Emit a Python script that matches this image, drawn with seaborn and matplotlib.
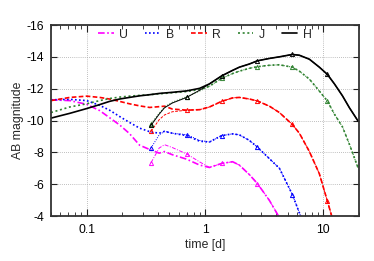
import numpy as np
import pandas as pd
import matplotlib
matplotlib.use("Agg")
import matplotlib.pyplot as plt
import seaborn as sns

# curvas principais (linha grossa), tempo em dias
t_main = [0.05, 0.072, 0.1, 0.129, 0.156, 0.19, 0.23, 0.28, 0.34, 0.41, 0.455, 0.53,
          0.7, 0.9, 1.09, 1.38, 1.71, 1.95, 2.37, 2.77, 3.5, 4.25, 5.47, 6.27,
          7.62, 9.25, 10.8, 12.4, 14.5, 16.6, 19.7]

mag_U = [-11.3, -11.25, -11.02, -10.62, -10.18, -9.72, -9.18, -8.45, -8.18, -7.95, -8.05, -7.85,
         -7.57, -7.2, -7.05, -7.3, -7.41, -7.2, -6.6, -6.04, -4.98, -3.9]
mag_B = [-11.3, -11.33, -11.25, -10.95, -10.65, -10.25, -9.88, -9.52, -9.3, -9.2, -9.32, -9.2,
         -9.05, -8.7, -8.65, -9.05, -9.16, -9.1, -8.75, -8.33, -7.6, -7.0, -5.35, -4.2, -2.5]
mag_R = [-11.25, -11.45, -11.53, -11.45, -11.35, -11.2, -11.05, -10.92, -10.82, -10.87, -10.9, -10.72,
         -10.65, -10.68, -10.85, -11.2, -11.42, -11.45, -11.35, -11.23, -10.9, -10.5, -9.75, -9.2,
         -8.05, -6.65, -4.95, -3.4]
mag_J = [-10.5, -10.85, -11.05, -11.25, -11.38, -11.47, -11.53, -11.58, -11.62, -11.68, -11.7, -11.75,
         -11.82, -11.95, -12.15, -12.65, -12.95, -13.1, -13.28, -13.38, -13.47, -13.5, -13.35, -13.1,
         -12.6, -11.85, -11.23, -10.4, -9.6, -8.5, -7.0]
mag_H = [-10.15, -10.45, -10.75, -11.0, -11.2, -11.35, -11.45, -11.55, -11.62, -11.7, -11.73, -11.77,
         -11.86, -12.02, -12.3, -12.8, -13.15, -13.35, -13.55, -13.75, -13.9, -14.0, -14.15, -14.1,
         -13.85, -13.35, -12.9, -12.3, -11.55, -10.8, -9.95]

# segunda serie (linha fina com triangulos), so o comeco difere da principal
t_early = [0.35, 0.41, 0.455, 0.53, 0.7, 0.9]
early_U = [-7.35, -8.27, -8.48, -8.3, -7.9, -7.4]
early_B = [-8.27, -9.1, -9.32, -9.2, -9.11, -8.75]
early_R = [-9.32, -10.05, -10.35, -10.55, -10.65, -10.68]
early_J = [-9.8, -10.45, -10.85, -11.15, -11.5, -11.85]
early_H = [-9.7, -10.4, -10.8, -11.1, -11.45, -11.9]

bandas = ["U", "B", "R", "J", "H"]
cores = {"U": "#ff00ff", "B": "#0000ff", "R": "#ff0000", "J": "#2f8230", "H": "#000000"}
estilos = {"U": (0, (4, 1.5, 1, 1.5)), "B": (0, (1, 1.4)), "R": (0, (2.8, 1.4)),
           "J": (0, (1.2, 1.6)), "H": "-"}
principal = {"U": mag_U, "B": mag_B, "R": mag_R, "J": mag_J, "H": mag_H}
inicio = {"U": early_U, "B": early_B, "R": early_R, "J": early_J, "H": early_H}

sns.set_style("ticks")
plt.rcParams['font.family'] = ['Liberation Sans', 'DejaVu Sans']
plt.rcParams['font.size'] = 8.8

fig = plt.figure(figsize=(3.74, 2.61), dpi=100)
ax = fig.add_axes([0.1364, 0.1724, 0.8235, 0.7318])

for b in bandas:
    mags = principal[b]
    df = pd.DataFrame({"t": t_main[:len(mags)], "mag": mags})
    sns.lineplot(data=df, x="t", y="mag", ax=ax, color=cores[b], linestyle=estilos[b],
                 linewidth=1.2, label=b, estimator=None, sort=False)

for b in bandas:
    mags = principal[b]
    # junta o comeco da serie fina com a cauda da principal (a partir de 1.09 d)
    tt = t_early + t_main[14:len(mags)]
    mm = inicio[b] + mags[14:]
    df = pd.DataFrame({"t": tt, "mag": mm})
    idx = [i for i, v in enumerate(tt) if v in (0.35, 0.7, 1.38, 2.77, 5.47, 10.8)]
    sns.lineplot(data=df, x="t", y="mag", ax=ax, color=cores[b], linestyle=estilos[b],
                 linewidth=0.7, marker="^", markersize=3, markevery=idx,
                 markerfacecolor="none", markeredgecolor=cores[b], markeredgewidth=0.7,
                 estimator=None, sort=False)

ax.set_xscale("log")
ax.set_xlim(0.05, 20)
ax.set_ylim(-4, -16)
ax.set_yticks([-16, -14, -12, -10, -8, -6, -4])
ax.set_yticklabels(["-16", "-14", "-12", "-10", "-8", "-6", "-4"])
ax.set_xticks([0.1, 1, 10])
ax.set_xticklabels(["0.1", "1", "10"])
ax.set_xlabel("time [d]", labelpad=2)
ax.set_ylabel("AB magnitude", labelpad=2)

ax.grid(True, which="major", color="#aaaaaa", linestyle=(0, (1, 1.5)), linewidth=0.6)
ax.tick_params(which="both", direction="in", top=True, right=True, colors="#222222",
               labelcolor="black")
ax.tick_params(axis="x", which="major", length=5, width=0.8, pad=6)
ax.tick_params(axis="x", which="minor", length=3, width=0.6)
ax.tick_params(axis="y", which="major", length=4, width=0.8, pad=5)
ax.tick_params(axis="y", which="minor", length=0)
for s in ax.spines.values():
    s.set_linewidth(1.3)
    s.set_color("#333333")

leg = ax.legend(loc="center", bbox_to_anchor=(0.5, 0.949), ncol=5, frameon=False,
                handlelength=1.25, handletextpad=0.45, columnspacing=1.4, fontsize=8.8,
                borderpad=0.1)

fig.savefig("out.png", dpi=100)
